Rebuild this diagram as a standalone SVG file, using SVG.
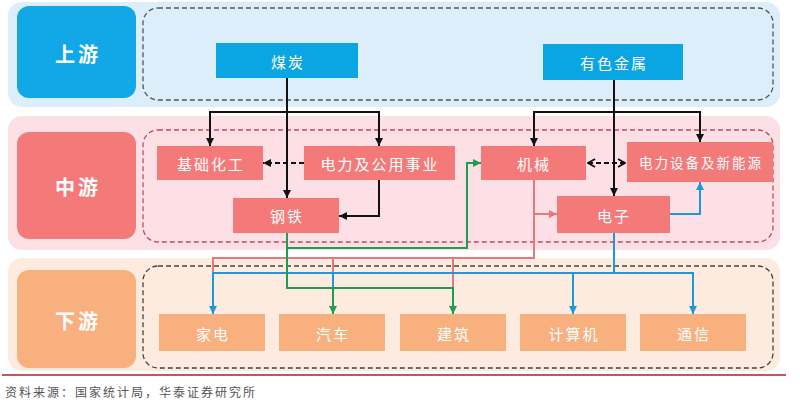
<svg xmlns="http://www.w3.org/2000/svg" width="800" height="404" viewBox="0 0 800 404">
<defs>
<style>
.t{font-family:"Noto Sans CJK SC","Noto Sans",sans-serif;fill:#fff;text-anchor:middle;dominant-baseline:central}
.lab{font-size:20px;font-weight:bold;letter-spacing:3px}
.nd{font-size:15px;letter-spacing:2px}
.c{fill:none;stroke-width:2}
.k{stroke:#111}.g{stroke:#1e9c50}.p{stroke:#e5787c}.b{stroke:#1a9ad8}
.dash{fill:none;stroke-width:1.3;stroke-dasharray:5 3}
.up{fill:#0aa5e3}.mid{fill:#f47a7a}.low{fill:#f8b07f}
</style>
<marker id="ak" viewBox="0 0 8 8" refX="8" refY="4" markerWidth="8" markerHeight="8" markerUnits="userSpaceOnUse" orient="auto"><path d="M0,0L8,4L0,8z" fill="#111"/></marker>
<marker id="ag" viewBox="0 0 8 8" refX="8" refY="4" markerWidth="8" markerHeight="8" markerUnits="userSpaceOnUse" orient="auto"><path d="M0,0L8,4L0,8z" fill="#1e9c50"/></marker>
<marker id="ap" viewBox="0 0 8 8" refX="8" refY="4" markerWidth="8" markerHeight="8" markerUnits="userSpaceOnUse" orient="auto"><path d="M0,0L8,4L0,8z" fill="#e5787c"/></marker>
<marker id="ab" viewBox="0 0 8 8" refX="8" refY="4" markerWidth="8" markerHeight="8" markerUnits="userSpaceOnUse" orient="auto"><path d="M0,0L8,4L0,8z" fill="#1a9ad8"/></marker>
<marker id="ao" viewBox="0 0 10 10" refX="9" refY="5" markerWidth="10" markerHeight="10" markerUnits="userSpaceOnUse" orient="auto-start-reverse"><path d="M2,1L9,5L2,9" fill="none" stroke="#111" stroke-width="1.8"/></marker>
</defs>
<rect width="800" height="404" fill="#fff"/>
<g id="bands">
<rect x="8" y="2" width="772" height="105" rx="14" fill="#dcEEF9"/>
<rect x="8" y="116" width="772" height="134" rx="14" fill="#fde0e6"/>
<rect x="8" y="258" width="772" height="113" rx="14" fill="#fdebe0"/>
<rect x="143" y="8" width="630" height="92" rx="15" class="dash" stroke="#555"/>
<rect x="143" y="130" width="630" height="112" rx="15" class="dash" stroke="#b8505a"/>
<rect x="143" y="266" width="630" height="102" rx="15" class="dash" stroke="#444"/>
<line x1="2" y1="375" x2="786" y2="375" stroke="#b01e28" stroke-width="1.5"/>
</g>
<g id="label-up"><rect x="17" y="6" width="119" height="92" rx="12" fill="#12a8e8"/><text class="t lab" x="78" y="53">上游</text></g>
<g id="label-mid"><rect x="17" y="132" width="119" height="107" rx="12" class="mid"/><text class="t lab" x="78" y="186">中游</text></g>
<g id="label-low"><rect x="17" y="270" width="119" height="98" rx="12" class="low"/><text class="t lab" x="78" y="320">下游</text></g>
<g id="connectors">
<path class="c k" d="M287,78V198" marker-end="url(#ak)"/>
<path class="c k" d="M287,112H210V146" marker-end="url(#ak)"/>
<path class="c k" d="M287,112H379V146" marker-end="url(#ak)"/>
<path class="c k" d="M614,80V196" marker-end="url(#ak)"/>
<path class="c k" d="M614,112H534V146" marker-end="url(#ak)"/>
<path class="c k" d="M614,112H700V142" marker-end="url(#ak)"/>
<path class="c k" d="M379,180V216H339" marker-end="url(#ak)"/>
<path class="c k" d="M304,163H263" stroke-dasharray="5 3" marker-end="url(#ak)"/>
<path class="c k" d="M588,163H625" stroke-dasharray="5 3" marker-start="url(#ao)" marker-end="url(#ao)"/>
<path class="c p" d="M534,180V258H213V273"/>
<path class="c p" d="M333,258V273"/>
<path class="c p" d="M453,258V288"/>
<path class="c p" d="M534,214H557" marker-end="url(#ap)"/>
<path class="c b" d="M614,233V273H213V314" marker-end="url(#ab)"/>
<path class="c b" d="M333,273V288"/>
<path class="c b" d="M614,273H693V314" marker-end="url(#ab)"/>
<path class="c b" d="M573,273V314" marker-end="url(#ab)"/>
<path class="c b" d="M670,214H700V182" marker-end="url(#ab)"/>
<path class="c g" d="M287,233V288H453V314" marker-end="url(#ag)"/>
<path class="c g" d="M333,288V314" marker-end="url(#ag)"/>
<path class="c g" d="M287,248H467V163H481" marker-end="url(#ag)"/>
</g>
<g id="n-coal"><rect x="216" y="43" width="142" height="35" class="up"/><text class="t nd" x="288" y="61">煤炭</text></g>
<g id="n-metal"><rect x="543" y="44" width="140" height="36" class="up"/><text class="t nd" x="614" y="62">有色金属</text></g>
<g id="n-chem"><rect x="157" y="146" width="106" height="34" class="mid"/><text class="t nd" x="211" y="163">基础化工</text></g>
<g id="n-power"><rect x="304" y="146" width="151" height="34" class="mid"/><text class="t nd" x="380" y="163">电力及公用事业</text></g>
<g id="n-steel"><rect x="233" y="198" width="106" height="35" class="mid"/><text class="t nd" x="287" y="215">钢铁</text></g>
<g id="n-mach"><rect x="481" y="146" width="105" height="34" class="mid"/><text class="t nd" x="534" y="163">机械</text></g>
<g id="n-newenergy"><rect x="627" y="142" width="146" height="40" class="mid"/><text class="t nd" x="701" y="162" style="font-size:13.5px">电力设备及新能源</text></g>
<g id="n-elec"><rect x="557" y="196" width="113" height="37" class="mid"/><text class="t nd" x="614" y="215">电子</text></g>
<g id="n-appl"><rect x="159" y="314" width="106" height="37" class="low"/><text class="t nd" x="213" y="333">家电</text></g>
<g id="n-auto"><rect x="279" y="314" width="106" height="37" class="low"/><text class="t nd" x="333" y="333">汽车</text></g>
<g id="n-build"><rect x="400" y="314" width="106" height="37" class="low"/><text class="t nd" x="454" y="333">建筑</text></g>
<g id="n-comp"><rect x="520" y="314" width="106" height="37" class="low"/><text class="t nd" x="574" y="333">计算机</text></g>
<g id="n-comm"><rect x="640" y="314" width="106" height="37" class="low"/><text class="t nd" x="694" y="333">通信</text></g>
<text x="5" y="397" font-family="Noto Sans CJK SC, sans-serif" font-size="12" letter-spacing="2" fill="#555">资料来源：国家统计局，华泰证券研究所</text>
</svg>
